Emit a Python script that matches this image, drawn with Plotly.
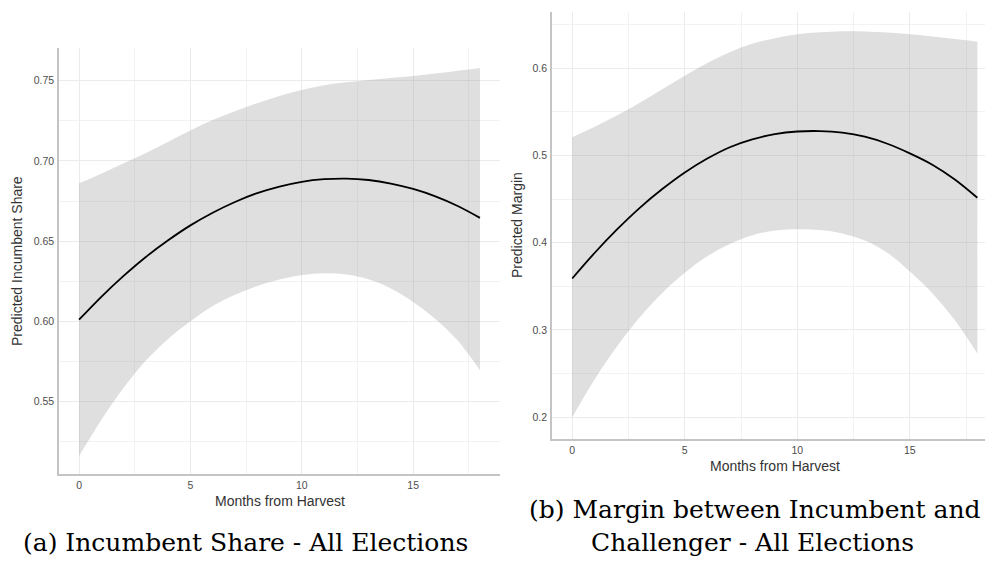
import plotly.graph_objects as go

# ---------------- data ----------------
months = list(range(19))

share_fit = [0.601, 0.6153, 0.6283, 0.6401, 0.6505, 0.6598, 0.6677, 0.6744, 0.6799, 0.684,
             0.687, 0.6886, 0.689, 0.6881, 0.6859, 0.6825, 0.6779, 0.6719, 0.6645]
share_upper = [0.686, 0.692, 0.6985, 0.705, 0.712, 0.719, 0.7255, 0.731, 0.736, 0.7405,
               0.7442, 0.7472, 0.749, 0.7505, 0.7517, 0.753, 0.7545, 0.7562, 0.758]
share_lower = [0.516, 0.5385, 0.5585, 0.5755, 0.589, 0.600, 0.6095, 0.6165, 0.622, 0.626,
               0.6288, 0.630, 0.6292, 0.6262, 0.6205, 0.6121, 0.6015, 0.588, 0.5695]

margin_fit = [0.359, 0.3885, 0.4155, 0.440, 0.4615, 0.4805, 0.4965, 0.5095, 0.5185, 0.5245,
              0.5275, 0.528, 0.5262, 0.5215, 0.5135, 0.5025, 0.4895, 0.4725, 0.4515]
margin_upper = [0.521, 0.533, 0.546, 0.5605, 0.576, 0.5915, 0.606, 0.6185, 0.628, 0.6345,
                0.639, 0.6413, 0.6425, 0.6422, 0.641, 0.639, 0.6365, 0.6335, 0.6305]
margin_lower = [0.200, 0.2435, 0.2815, 0.3145, 0.3425, 0.3655, 0.3845, 0.3985, 0.4085, 0.414,
                0.4155, 0.4147, 0.4107, 0.4025, 0.3885, 0.367, 0.342, 0.311, 0.273]

x_ticks = [0, 5, 10, 15]
x_minor = [2.5, 7.5, 12.5, 17.5]
share_ticks = [0.55, 0.60, 0.65, 0.70, 0.75]
share_ticktext = ["0.55", "0.60", "0.65", "0.70", "0.75"]
share_minor = [0.525, 0.575, 0.625, 0.675, 0.725]
margin_ticks = [0.2, 0.3, 0.4, 0.5, 0.6]
margin_ticktext = ["0.2", "0.3", "0.4", "0.5", "0.6"]
margin_minor = [0.25, 0.35, 0.45, 0.55, 0.65]

x_title = "Months from Harvest"
share_title = "Predicted Incumbent Share"
margin_title = "Predicted Margin"
caption_a = "(a) Incumbent Share - All Elections"
caption_b1 = "(b) Margin between Incumbent and"
caption_b2 = "Challenger - All Elections"

# ---------------- styling ----------------
W, H = 985, 562
RIBBON = "rgba(150,150,150,0.30)"
GRID = "#ebebeb"
GRID_MINOR = "#f2f2f2"
AXLINE = "#c4c4c4"
TICKCOL = "#4d4d4d"
TITLECOL = "#333333"
SANS = "Liberation Sans, Arial, sans-serif"
SERIF = "DejaVu Serif, serif"

fig = go.Figure()

panels = [("x", "y", share_fit, share_upper, share_lower),
          ("x2", "y2", margin_fit, margin_upper, margin_lower)]
for xa, ya, fit, up, lo in panels:
    fig.add_trace(go.Scatter(x=months, y=lo, xaxis=xa, yaxis=ya, mode="lines",
                             line=dict(width=0, shape="spline", smoothing=1.0),
                             hoverinfo="skip", showlegend=False))
    fig.add_trace(go.Scatter(x=months, y=up, xaxis=xa, yaxis=ya, mode="lines",
                             line=dict(width=0, shape="spline", smoothing=1.0), fill="tonexty",
                             fillcolor=RIBBON, hoverinfo="skip", showlegend=False))
    fig.add_trace(go.Scatter(x=months, y=fit, xaxis=xa, yaxis=ya, mode="lines",
                             line=dict(color="black", width=1.8, shape="spline", smoothing=1.0),
                             showlegend=False))


def px_x(p):
    return p / W


def px_y(p):
    return 1 - p / H


common = dict(showgrid=True, gridcolor=GRID, gridwidth=1.3, zeroline=False,
              showline=True, linecolor=AXLINE, linewidth=1.6, ticks="",
              tickfont=dict(family=SANS, size=10.5, color=TICKCOL),
              ticklabelstandoff=1)

fig.update_layout(
    width=W, height=H,
    margin=dict(l=0, r=0, t=0, b=0),
    paper_bgcolor="white", plot_bgcolor="white",
    font=dict(family=SANS),
    xaxis=dict(domain=[px_x(59), px_x(500)], range=[-0.9, 18.9], tickvals=x_ticks,
               anchor="y",
               minor=dict(tickvals=x_minor, showgrid=True, gridcolor=GRID_MINOR, gridwidth=0.8),
               **common),
    yaxis=dict(domain=[px_y(474), px_y(48)], range=[0.5048, 0.7704], tickvals=share_ticks,
               ticktext=share_ticktext, anchor="x",
               minor=dict(tickvals=share_minor, showgrid=True, gridcolor=GRID_MINOR, gridwidth=0.8),
               **common),
    xaxis2=dict(domain=[px_x(552), 1.0], range=[-0.9, 18.34], tickvals=x_ticks,
                anchor="y2",
                minor=dict(tickvals=x_minor, showgrid=True, gridcolor=GRID_MINOR, gridwidth=0.8),
                **common),
    yaxis2=dict(domain=[px_y(439), px_y(12)], range=[0.175, 0.6645], tickvals=margin_ticks,
                ticktext=margin_ticktext, anchor="x2",
                minor=dict(tickvals=margin_minor, showgrid=True, gridcolor=GRID_MINOR, gridwidth=0.8),
                **common),
)


def label(text, x, y, font, angle=0):
    return dict(text=text, x=px_x(x), y=px_y(y), xref="paper", yref="paper",
                xanchor="center", yanchor="middle", showarrow=False,
                textangle=angle, font=font)


tfont = dict(family=SANS, size=14, color=TITLECOL)
cfont = dict(family=SERIF, size=25, color="black")
ann = [
    label(x_title, 279.5, 501, tfont),
    label(x_title, 775, 466, tfont),
    label(share_title, 17, 261, tfont, -90),
    label(margin_title, 517, 225, tfont, -90),
    label(caption_a, 245, 542, cfont),
    label(caption_b1, 755, 509, cfont),
    label(caption_b2, 752, 542, cfont),
]
fig.update_layout(annotations=ann)

fig.write_html("out.html", config={"displayModeBar": False},
               post_script="document.body.style.margin='0px';")
